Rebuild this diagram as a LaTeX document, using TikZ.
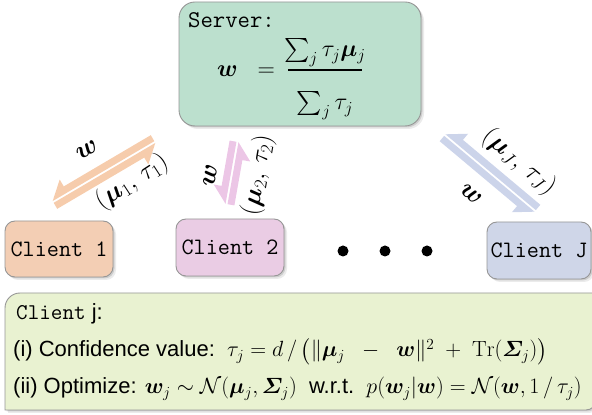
\RequirePackage{fix-cm}
\documentclass[tikz,border=0pt]{standalone}
\usepackage{amsmath,amssymb,bm}
\usepackage{fontspec}
\setsansfont{Liberation Sans}
\usetikzlibrary{shadows}
\definecolor{servercol}{RGB}{188,224,206}
\definecolor{cAcol}{RGB}{243,206,180}
\definecolor{cBcol}{RGB}{234,204,228}
\definecolor{cJcol}{RGB}{207,214,232}
\definecolor{botcol}{RGB}{233,242,209}
\definecolor{bordercol}{RGB}{150,150,150}
\definecolor{arrA}{RGB}{246,204,172}
\definecolor{arrB}{RGB}{236,198,230}
\definecolor{arrJ}{RGB}{204,212,234}
\newcommand{\twoway}[5]{%
\begin{scope}[shift={(#1,#2)}, rotate=#3]
\fill[#5] ({#4/2},1) -- ({#4/2},8) -- ({-#4/2+17},8) -- ({-#4/2+17},16) -- ({-#4/2},1) -- cycle;
\fill[#5] ({-#4/2},-1) -- ({-#4/2},-8) -- ({#4/2-17},-8) -- ({#4/2-17},-16) -- ({#4/2},-1) -- cycle;
\end{scope}}
\begin{document}
\begin{tikzpicture}[x=1pt,y=1pt,
  softshadow/.style={drop shadow={shadow xshift=1.5pt,shadow yshift=-1.5pt,fill=black,opacity=0.12},
                     drop shadow={shadow xshift=3pt,shadow yshift=-3pt,fill=black,opacity=0.08}},
  box/.style={draw=bordercol, line width=0.9pt, rounded corners=10pt, softshadow, inner sep=0pt},
  clientbox/.style={box, font=\fontsize{23.5}{28}\selectfont\ttfamily},
  lbl/.style={font=\fontsize{26}{30}\selectfont, inner sep=0pt},
  botline/.style={anchor=base west, inner sep=0pt, font=\fontsize{22}{26}\selectfont\sffamily}]
\useasboundingbox (0,0) rectangle (592,415);
% server
\node[box, rounded corners=16pt, fill=servercol, minimum width=242pt, minimum height=124pt] (server) at (300,351) {};
\node[anchor=base west, inner sep=0pt, font=\fontsize{24}{29}\selectfont\ttfamily] (srvlbl) at (188,387) {Server:};
\node[anchor=base, inner sep=0pt, font=\fontsize{24}{29}\selectfont] (wlhs) at (246,338) {$\boldsymbol{w}\;\;=$};
\node[anchor=base, inner sep=0pt, font=\fontsize{24}{29}\selectfont] (num) at (325,358) {$\sum_j \tau_j \boldsymbol{\mu}_j$};
\node[anchor=base, inner sep=0pt, font=\fontsize{24}{29}\selectfont] (den) at (325,305) {$\sum_j \tau_j$};
\coordinate (barL) at (288,345);
\coordinate (barR) at (362,345);
\draw[line width=1.1pt] (barL) -- (barR);
% clients
\node[clientbox, fill=cAcol, minimum width=108pt, minimum height=56pt] (c1) at (59,166) {Client 1};
\node[clientbox, fill=cBcol, minimum width=108pt, minimum height=57pt] (c2) at (230,167.5) {Client 2};
\node[clientbox, fill=cJcol, minimum width=104pt, minimum height=57pt] (cJ) at (539,164.5) {Client J};
% dots
\fill (343,164) circle (5.5);
\fill (385,164) circle (5.5);
\fill (427,164) circle (5.5);
% arrows
\twoway{104}{243}{30.5}{118}{arrA}
\twoway{232}{242}{80}{63}{arrB}
\twoway{490}{242}{140}{118}{arrJ}
% arrow labels
\node[lbl, rotate=30] (w1) at (87,265) {$\boldsymbol{w}$};
\node[lbl, rotate=33] (m1) at (132,233) {$(\boldsymbol{\mu}_1,\,\tau_1)$};
\node[lbl, rotate=80] (w2) at (210,240) {$\boldsymbol{w}$};
\node[lbl, rotate=80] (m2) at (258,240) {$(\boldsymbol{\mu}_2,\,\tau_2)$};
\node[lbl, rotate=-40] (mJ) at (519,253) {$(\boldsymbol{\mu}_J,\,\tau_J)$};
\node[lbl, rotate=-40] (wJ) at (471,221) {$\boldsymbol{w}$};
% bottom box
\draw[fill=botcol, draw=bordercol, line width=0.9pt, softshadow]
  (5,5) -- (5,107) arc[start angle=180, end angle=90, radius=15] -- (596,122) -- (596,15)
  arc[start angle=0, end angle=-90, radius=10] -- cycle;
\node[anchor=base west, inner sep=0pt] (cj) at (16,95) {\fontsize{22.5}{27}\selectfont\ttfamily Client\fontsize{22}{26}\selectfont\sffamily\ j:};
\node[botline] (l1) at (13,58)
  {(i) Confidence value:\ \ $\tau_j = d\,/\,\big(\|\boldsymbol{\mu}_j \;\;-\;\; \boldsymbol{w}\|^2 \;+\; \mathrm{Tr}(\boldsymbol{\varSigma}_j)\big)$};
\node[botline] (l2) at (13,21)
  {(ii) Optimize: $\boldsymbol{w}_j \sim \mathcal{N}(\boldsymbol{\mu}_j, \boldsymbol{\varSigma}_j)$\ \ w.r.t.\ \ $p(\boldsymbol{w}_j|\boldsymbol{w}) = \mathcal{N}(\boldsymbol{w}, 1\,/\,\tau_j)$};
\end{tikzpicture}
\end{document}
